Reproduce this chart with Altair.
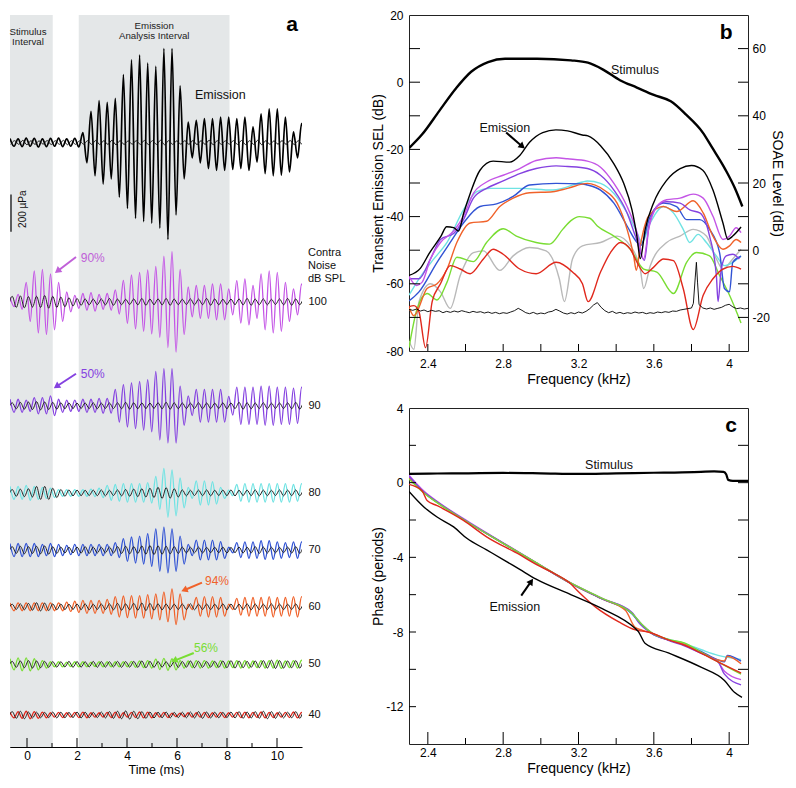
import altair as alt
import pandas as pd

FONT = "Liberation Sans"

# ======================= PANEL A : waveforms =======================
PERIOD_MS = 0.324          # one cycle of the ~3.1 kHz emission
T0, T1 = -0.68, 11.0       # visible time range (ms)
REF_SHIFT = 0.09           # phase offset of the black reference traces
A_W, A_H, A_TOP = 292, 732, 3932   # plot size and vertical extent in µPa

GRAY_START = [-0.68, 2.07]
GRAY_END = [1.03, 8.10]

# per-cycle peak (+) and trough (-) amplitudes, µPa
TOP_POS = [22, 20, 24, 22, 20, 22, 24, 20, 22, 53, 168, 225, 216, 237, 365, 444, 470, 426, 409, 505,
           505, 304, 110, 119, 128, 128, 137, 137, 128, 137, 84, 154, 181, 181, 137, 58, 102]
TOP_NEG = [20, 22, 20, 24, 22, 20, 22, 20, 24, 109, 179, 223, 196, 293, 354, 407, 425, 433, 460, 521,
           389, 196, 82, 109, 140, 150, 150, 145, 140, 150, 105, 167, 179, 175, 158, 82, 105]
TOP_REF = [10, 12, 10, 9, 11, 10, 12, 10, 9, 10, 11, 10, 12, 10, 9, 10, 11, 10, 12, 10,
           9, 10, 11, 10, 12, 10, 9, 10, 11, 10, 12, 10, 9, 10, 11, 10, 12]

AMP_100 = [25, 40, 105, 167, 175, 150, 105, 53, 35, 45, 50, 40, 45, 65, 115, 145, 158, 172, 190, 245,
           270, 175, 80, 88, 88, 96, 96, 70, 114, 123, 88, 150, 167, 158, 105, 70, 96]
AMP_90 = [35, 35, 30, 44, 44, 53, 35, 30, 30, 35, 35, 40, 40, 88, 114, 123, 131, 140, 184, 200,
          200, 105, 53, 88, 88, 88, 88, 50, 100, 100, 100, 105, 105, 100, 100, 95, 100]
AMP_80 = [35, 35, 40, 35, 30, 25, 18, 18, 18, 18, 20, 25, 40, 45, 50, 50, 50, 55, 88, 131,
          123, 80, 30, 65, 65, 60, 30, 15, 45, 50, 50, 50, 50, 50, 50, 45, 50]
AMP_70 = [35, 35, 35, 35, 30, 35, 30, 25, 30, 30, 30, 30, 30, 40, 61, 70, 75, 88, 114, 123,
          114, 75, 30, 53, 53, 53, 45, 15, 40, 44, 44, 50, 50, 44, 40, 44, 44]
AMP_60 = [21, 21, 21, 21, 21, 21, 21, 25, 30, 35, 35, 35, 40, 55, 58, 60, 60, 65, 70, 80,
          96, 70, 15, 50, 55, 55, 50, 15, 45, 50, 50, 50, 55, 50, 50, 55, 55]
AMP_50 = [30, 35, 35, 30, 20, 14, 14, 12, 14, 14, 12, 14, 14, 14, 14, 16, 18, 20, 28, 32,
          30, 20, 18, 20, 20, 18, 20, 18, 20, 20, 18, 20, 20, 22, 18, 20, 22]
AMP_40 = [15, 18, 20, 18, 15, 12, 14, 12, 14, 15, 12, 12, 14, 15, 12, 14, 16, 15, 12, 14,
          10, 10, 12, 12, 14, 12, 14, 12, 14, 15, 14, 16, 14, 12, 14, 16, 14]

REF_100 = [30, 32, 28, 30, 34, 30, 26, 22, 18, 16, 15, 16, 18, 15, 14, 16, 18, 15, 16, 18,
           15, 14, 16, 15, 18, 16, 14, 15, 16, 18, 15, 16, 14, 16, 18, 16, 15]
REF_90 = [16, 18, 20, 22, 20, 18, 16, 15, 14, 15, 16, 14, 15, 16, 18, 16, 15, 14, 16, 18,
          16, 15, 14, 16, 15, 14, 16, 15, 18, 16, 15, 16, 14, 15, 16, 18, 16]
REF_80 = [18, 20, 22, 35, 35, 25, 18, 16, 15, 14, 15, 16, 14, 16, 18, 20, 22, 25, 30, 28,
          22, 16, 14, 15, 16, 14, 15, 16, 14, 15, 16, 15, 14, 16, 15, 16, 14]
REF_70 = [18, 20, 18, 20, 22, 18, 16, 15, 16, 18, 16, 15, 16, 18, 20, 18, 22, 24, 22, 20,
          18, 16, 15, 16, 14, 15, 16, 14, 16, 15, 18, 16, 15, 14, 16, 18, 16]
REF_60 = [14, 16, 18, 22, 20, 16, 15, 14, 15, 16, 14, 15, 16, 18, 16, 18, 20, 18, 16, 15,
          14, 15, 16, 14, 15, 14, 16, 15, 14, 16, 15, 14, 16, 15, 14, 16, 15]
REF_50 = [16, 18, 20, 18, 16, 15, 14, 16, 15, 14, 16, 15, 14, 16, 15, 16, 18, 16, 15, 14,
          16, 15, 18, 16, 15, 16, 18, 20, 18, 16, 18, 20, 22, 20, 18, 20, 18]
REF_40 = [18, 20, 16, 15, 14, 16, 15, 14, 16, 15, 14, 16, 18, 20, 22, 20, 18, 16, 15, 16,
          14, 15, 16, 18, 16, 15, 14, 16, 18, 16, 18, 20, 18, 16, 15, 18, 20]

LEVELS = ["100", "90", "80", "70", "60", "50", "40"]
LEVEL_AMPS = [AMP_100, AMP_90, AMP_80, AMP_70, AMP_60, AMP_50, AMP_40]
LEVEL_REFS = [REF_100, REF_90, REF_80, REF_70, REF_60, REF_50, REF_40]
LEVEL_BASE = [2391, 1833, 1365, 1058, 753, 444, 172]
TOP_BASE = 3247

C_MAG, C_VIO, C_CYAN, C_BLUE = "#c455e6", "#8542e0", "#6fe3e3", "#3153d4"
C_ORANGE, C_GREEN, C_RED, C_GRAY = "#f0622a", "#79dd33", "#e0281c", "#b9b9b9"
LEVEL_COLORS = [C_MAG, C_VIO, C_CYAN, C_BLUE, C_ORANGE, C_GREEN, C_RED]

# ======================= PANEL B : spectra =======================
B_STIM = [(2.30, -19.6), (2.37, -15.5), (2.46, -8.6), (2.55, -1.8), (2.63, 3.1), (2.72, 6.0), (2.81, 7.0),
          (2.98, 7.0), (3.16, 6.5), (3.25, 5.8), (3.335, 3.6), (3.42, 0.6), (3.51, -1.6), (3.60, -3.8),
          (3.69, -5.7), (3.77, -9.6), (3.86, -15.0), (3.91, -19.5), (3.98, -26.0), (4.03, -31.5), (4.07, -37.0)]
B_EMIS = [(2.30, -57.5), (2.36, -55.4), (2.41, -50.7), (2.47, -45.8), (2.50, -43.0), (2.537, -43.3), (2.563, -44.3),
          (2.59, -39.0), (2.625, -33.1), (2.677, -26.2), (2.747, -23.5), (2.835, -23.8), (2.888, -21.8),
          (2.94, -17.9), (3.01, -15.0), (3.08, -14.2), (3.142, -14.5), (3.22, -15.7), (3.25, -16.0),
          (3.317, -18.9), (3.388, -24.3), (3.44, -30.1), (3.484, -38.0), (3.51, -45.8), (3.528, -52.5),
          (3.554, -43.8), (3.598, -36.0), (3.668, -29.2), (3.74, -25.7), (3.80, -24.8), (3.86, -26.2),
          (3.914, -32.1), (3.967, -41.9), (3.993, -46.8), (4.019, -45.8), (4.063, -43.1)]
B_MAG = [(2.30, -57.8), (2.34, -60.5), (2.37, -59.5), (2.414, -52.6), (2.467, -47.7), (2.537, -44.3),
         (2.589, -39.9), (2.642, -33.1), (2.712, -29.7), (2.80, -27.7), (2.888, -25.7), (2.975, -23.3),
         (3.081, -22.5), (3.142, -22.8), (3.247, -23.5), (3.317, -25.3), (3.388, -30.1), (3.458, -37.0),
         (3.511, -44.8), (3.546, -52.6), (3.572, -43.8), (3.616, -37.0), (3.668, -35.0), (3.739, -34.5),
         (3.809, -33.3), (3.862, -34.5), (3.914, -39.9), (3.967, -46.8), (4.002, -45.8), (4.037, -43.3),
         (4.063, -44.8)]
B_VIO = [(2.30, -58.5), (2.353, -58.5), (2.414, -52.6), (2.467, -46.8), (2.537, -45.0), (2.589, -40.9),
         (2.642, -34.5), (2.712, -31.6), (2.80, -29.4), (2.888, -27.2), (2.975, -25.7), (3.081, -24.9),
         (3.142, -25.1), (3.247, -25.7), (3.317, -27.7), (3.388, -32.1), (3.458, -38.9), (3.502, -45.8),
         (3.55, -53.0), (3.575, -42.5), (3.616, -37.0), (3.668, -35.6), (3.739, -36.0), (3.791, -38.0),
         (3.844, -38.9), (3.896, -45.8), (3.932, -57.5), (3.941, -65.3), (3.958, -55.6), (3.984, -51.7),
         (4.019, -51.2), (4.054, -52.6)]
B_CYAN = [(2.30, -63.4), (2.353, -58.5), (2.432, -52.6), (2.502, -47.7), (2.589, -38.0), (2.66, -32.6),
          (2.73, -31.6), (2.888, -31.6), (3.063, -32.1), (3.221, -29.7), (3.247, -29.4), (3.317, -30.1),
          (3.388, -33.1), (3.458, -38.9), (3.511, -44.8), (3.537, -47.7), (3.581, -41.9), (3.651, -37.0),
          (3.704, -38.9), (3.756, -43.8), (3.791, -47.7), (3.835, -45.3), (3.879, -47.7), (3.932, -51.7),
          (3.975, -54.6), (4.019, -53.6), (4.063, -51.7)]
B_BLUE = [(2.30, -65.1), (2.353, -62.4), (2.449, -53.6), (2.519, -47.7), (2.589, -41.9), (2.677, -37.0),
          (2.765, -36.2), (2.853, -34.0), (2.94, -30.6), (3.081, -30.1), (3.221, -30.3), (3.247, -30.6),
          (3.317, -32.1), (3.388, -36.0), (3.458, -42.8), (3.511, -47.7), (3.53, -48.6), (3.581, -39.9),
          (3.651, -36.0), (3.721, -37.0), (3.774, -40.9), (3.844, -40.9), (3.896, -43.8), (3.949, -50.7),
          (3.975, -61.4), (4.002, -62.4), (4.019, -53.6), (4.063, -51.8)]
B_ORANGE = [(2.30, -67.0), (2.326, -69.5), (2.396, -61.4), (2.449, -60.0), (2.502, -55.6), (2.554, -47.7),
            (2.625, -41.9), (2.712, -41.4), (2.782, -37.0), (2.853, -34.5), (2.94, -32.9), (3.063, -32.6),
            (3.142, -31.6), (3.247, -30.1), (3.335, -32.1), (3.405, -36.0), (3.458, -43.8), (3.493, -51.7),
            (3.507, -56.0), (3.528, -48.7), (3.572, -39.9), (3.651, -37.0), (3.721, -38.5), (3.809, -35.3),
            (3.862, -38.9), (3.914, -45.8), (3.967, -49.7), (4.002, -48.7), (4.037, -46.8), (4.063, -47.7)]
B_GREEN = [(2.30, -79.0), (2.344, -67.3), (2.396, -62.9), (2.449, -64.8), (2.502, -59.5), (2.554, -52.1),
           (2.642, -53.4), (2.712, -47.7), (2.80, -43.6), (2.87, -45.8), (2.975, -47.7), (3.046, -48.2),
           (3.116, -43.8), (3.16, -41.2), (3.204, -40.0), (3.26, -40.5), (3.30, -42.8), (3.388, -45.8),
           (3.475, -49.7), (3.546, -55.6), (3.616, -56.5), (3.704, -62.9), (3.774, -53.6), (3.826, -50.7),
           (3.896, -51.7), (3.949, -57.5), (4.002, -63.4), (4.063, -71.7)]
B_GRAY = [(2.30, -77.0), (2.326, -79.5), (2.353, -65.3), (2.414, -60.0), (2.467, -62.4), (2.519, -67.3),
          (2.572, -57.5), (2.642, -50.7), (2.695, -50.2), (2.782, -56.0), (2.853, -51.7), (2.94, -49.2),
          (3.028, -50.2), (3.098, -58.5), (3.125, -65.3), (3.168, -52.6), (3.221, -48.7), (3.317, -47.7),
          (3.405, -45.8), (3.475, -48.7), (3.528, -55.6), (3.546, -61.4), (3.581, -54.6), (3.668, -47.7),
          (3.739, -45.8), (3.809, -43.8), (3.879, -45.8), (3.932, -52.6), (3.967, -55.6), (4.019, -52.6),
          (4.063, -49.7)]
B_RED = [(2.30, -66.8), (2.326, -66.5), (2.353, -68.3), (2.388, -79.0), (2.423, -65.3), (2.467, -60.0),
         (2.519, -54.6), (2.572, -55.6), (2.625, -57.0), (2.695, -52.6), (2.747, -49.7), (2.80, -51.2),
         (2.888, -55.6), (2.975, -57.0), (3.081, -53.6), (3.168, -56.5), (3.221, -60.0), (3.251, -65.3),
         (3.317, -56.5), (3.37, -50.7), (3.423, -47.7), (3.475, -49.7), (3.511, -53.6), (3.554, -57.0),
         (3.598, -55.1), (3.651, -52.6), (3.704, -53.1), (3.756, -61.4), (3.809, -73.6), (3.862, -63.4),
         (3.914, -58.5), (3.967, -55.6), (4.019, -54.8), (4.063, -55.6)]

NOISE_F = [2.30, 2.32, 2.34, 2.36, 2.38, 2.40, 2.42, 2.44, 2.46, 2.48, 2.50, 2.52, 2.54, 2.56, 2.58, 2.60,
           2.62, 2.64, 2.66, 2.68, 2.70, 2.72, 2.74, 2.76, 2.78, 2.80, 2.82, 2.84, 2.86, 2.88, 2.90, 2.92,
           2.94, 2.96, 2.98, 3.00, 3.02, 3.04, 3.06, 3.08, 3.10, 3.12, 3.14, 3.16, 3.18, 3.20, 3.22, 3.24,
           3.26, 3.28, 3.30, 3.32, 3.34, 3.36, 3.38, 3.40, 3.42, 3.44, 3.46, 3.48, 3.50, 3.52, 3.54, 3.56,
           3.58, 3.60, 3.62, 3.64, 3.66, 3.68, 3.70, 3.72, 3.74, 3.76, 3.78, 3.80, 3.81, 3.82, 3.826, 3.832,
           3.84, 3.86, 3.88, 3.90, 3.92, 3.94, 3.96, 3.98, 4.00, 4.02, 4.04, 4.06, 4.08, 4.10]
NOISE_DB = [-17.6, -17.9, -17.5, -18.1, -17.8, -18.3, -17.9, -18.2, -18.0, -18.6, -18.2, -18.5, -18.1, -18.4,
            -18.0, -18.3, -18.6, -18.2, -18.5, -18.3, -18.7, -18.4, -18.8, -18.5, -18.9, -18.6, -18.8, -18.4,
            -18.0, -17.3, -17.9, -18.6, -18.9, -18.5, -19.0, -18.7, -18.9, -18.4, -18.2, -17.6, -18.1, -18.7,
            -19.0, -18.6, -18.9, -18.4, -18.7, -18.2, -17.4, -16.3, -15.6, -17.0, -18.0, -18.6, -18.2, -18.8,
            -18.5, -18.9, -18.6, -18.8, -18.4, -18.7, -18.5, -18.9, -18.6, -18.8, -18.4, -18.6, -18.3, -18.5,
            -18.1, -18.2, -17.8, -17.6, -17.4, -17.2, -15.8, -8.0, -3.6, -9.5, -16.2, -17.2, -17.5, -17.2,
            -17.6, -17.3, -17.0, -16.4, -16.1, -16.9, -17.4, -17.2, -17.5, -17.3]

# ======================= PANEL C : phase =======================
C_STIM = [(2.30, 0.47), (2.45, 0.49), (2.60, 0.50), (2.80, 0.52), (3.00, 0.50), (3.20, 0.47), (3.40, 0.50),
          (3.60, 0.53), (3.75, 0.55), (3.85, 0.58), (3.92, 0.60), (3.97, 0.58), (3.984, 0.45), (3.995, 0.15),
          (4.02, 0.10), (4.10, 0.10)]
C_EMIS = [(2.30, -0.47), (2.379, -1.30), (2.449, -1.84), (2.537, -2.37), (2.607, -2.98), (2.712, -3.60),
          (2.80, -4.12), (2.888, -4.65), (2.975, -5.17), (3.151, -5.96), (3.326, -6.75), (3.50, -7.80),
          (3.518, -7.98), (3.553, -8.60), (3.677, -9.12), (3.853, -9.90), (3.975, -10.60), (4.028, -11.23),
          (4.068, -11.50)]
C_MAGP = [(2.30, 0.40), (2.379, -0.45), (2.449, -1.0), (2.625, -2.15), (2.80, -3.22), (2.975, -4.28),
          (3.151, -5.33), (3.326, -6.2), (3.484, -6.98), (3.537, -7.6), (3.589, -8.05), (3.677, -8.42),
          (3.765, -8.7), (3.853, -9.15), (3.941, -9.6), (3.975, -10.1), (4.063, -10.55)]
C_VIOP = [(2.30, 0.35), (2.379, -0.5), (2.449, -1.03), (2.625, -2.18), (2.80, -3.24), (2.975, -4.3),
          (3.151, -5.34), (3.326, -6.22), (3.484, -6.95), (3.52, -7.5), (3.589, -8.07), (3.677, -8.45),
          (3.765, -8.75), (3.853, -9.15), (3.941, -9.6), (3.975, -10.26), (4.063, -10.83)]
C_CYANP = [(2.30, 0.3), (2.379, -0.52), (2.449, -1.05), (2.625, -2.2), (2.80, -3.25), (2.975, -4.3),
           (3.151, -5.35), (3.326, -6.23), (3.484, -7.02), (3.537, -7.63), (3.589, -8.07), (3.677, -8.38),
           (3.765, -8.62), (3.853, -8.95), (3.941, -9.25), (4.063, -9.47)]
C_BLUEP = [(2.30, 0.3), (2.379, -0.53), (2.449, -1.05), (2.625, -2.2), (2.80, -3.25), (2.975, -4.3),
           (3.151, -5.35), (3.326, -6.23), (3.484, -7.02), (3.537, -7.63), (3.589, -8.07), (3.677, -8.42),
           (3.765, -8.68), (3.853, -9.05), (3.941, -9.5), (3.975, -9.6), (3.99, -9.25), (4.063, -9.56)]
C_ORANGEP = [(2.30, 0.28), (2.379, -0.53), (2.449, -1.05), (2.625, -2.2), (2.80, -3.25), (2.975, -4.3),
             (3.151, -5.35), (3.326, -6.23), (3.45, -6.85), (3.50, -7.75), (3.537, -7.9), (3.589, -8.07),
             (3.677, -8.42), (3.765, -8.68), (3.853, -9.1), (3.941, -9.5), (3.975, -9.55), (3.99, -9.3),
             (4.063, -9.7)]
C_GREENP = [(2.30, 0.2), (2.379, -0.55), (2.449, -1.07), (2.625, -2.2), (2.80, -3.25), (2.975, -4.28),
            (3.151, -5.33), (3.326, -6.2), (3.484, -7.0), (3.537, -7.6), (3.589, -8.05), (3.677, -8.4),
            (3.765, -8.6), (3.853, -9.1), (3.941, -9.6), (4.063, -10.26)]
C_REDP = [(2.30, -0.09), (2.37, -0.44), (2.396, -0.96), (2.449, -1.23), (2.589, -2.02), (2.712, -2.9),
          (2.888, -3.86), (2.975, -4.38), (3.063, -4.82), (3.151, -5.35), (3.204, -5.88), (3.291, -6.67),
          (3.414, -7.46), (3.502, -7.89), (3.572, -8.0), (3.677, -8.42), (3.765, -8.72), (3.853, -9.15),
          (3.941, -9.6), (4.063, -10.2)]

# ======================= helpers =======================
def wave_df(name, pos, neg, base, shift, col):
    ts, vs = [], []
    if shift:
        ts.append(T0 + shift - PERIOD_MS / 2)
        vs.append(base - neg[0])
    for k in range(len(pos)):
        t = T0 + shift + k * PERIOD_MS
        ts += [t, t + PERIOD_MS / 2]
        vs += [base + pos[k], base - neg[k]]
    return pd.DataFrame({"t": ts, "v": vs, "s": name, "col": col})


def series_df(pairs_by_name):
    frames = []
    for name, col, pairs in pairs_by_name:
        frames.append(pd.DataFrame({"f": [p[0] for p in pairs], "v": [p[1] for p in pairs],
                                    "s": name, "col": col}))
    return pd.concat(frames, ignore_index=True)


def hyphen_labels():
    return "datum.value < 0 ? '-' + format(-datum.value, 'd') : format(datum.value, 'd')"


# ======================= build panel A =======================
xA_scale = alt.Scale(domain=[T0, T1], nice=False, zero=False)
yA_scale = alt.Scale(domain=[0, A_TOP], nice=False, zero=False)
xA_axis = alt.Axis(values=[0, 2, 4, 6, 8, 10], ticks=False, grid=False, domainColor="black",
                   labelPadding=3, title="Time (ms)", titleFontSize=12.5, titlePadding=2, format="d")
yA_axis = alt.Axis(labels=False, ticks=False, grid=False, title="", domainColor="black")


def XA(f):
    return alt.X(f, type="quantitative", scale=xA_scale, axis=xA_axis)


def YA(f):
    return alt.Y(f, type="quantitative", scale=yA_scale, axis=yA_axis)


gray_df = pd.DataFrame({"a": GRAY_START, "b": GRAY_END})
gray = alt.Chart(gray_df).mark_rect(color="#e4e7e8").encode(
    x=XA("a"), x2="b", y=alt.value(0), y2=alt.value(A_H))

col_waves = pd.concat([wave_df(n, a, a, b, 0.0, c)
                       for n, a, b, c in zip(LEVELS, LEVEL_AMPS, LEVEL_BASE, LEVEL_COLORS)], ignore_index=True)
ref_waves = pd.concat([wave_df("r" + n, r, r, b, REF_SHIFT, "#111111")
                       for n, r, b in zip(LEVELS, LEVEL_REFS, LEVEL_BASE)] +
                      [wave_df("rtop", TOP_REF, TOP_REF, TOP_BASE, REF_SHIFT + 0.1, "#111111")],
                      ignore_index=True)
top_wave = wave_df("top", TOP_POS, TOP_NEG, TOP_BASE, 0.0, "#000000")

colored_a = alt.Chart(col_waves).mark_line(interpolate="monotone", clip=True, strokeWidth=1.3).encode(
    x=XA("t"), y=YA("v"), detail="s:N", color=alt.Color("col:N", scale=None))
top_a = alt.Chart(top_wave).mark_line(interpolate="monotone", clip=True, strokeWidth=1.7, color="black").encode(
    x=XA("t"), y=YA("v"))
refs_a = alt.Chart(ref_waves).mark_line(interpolate="monotone", clip=True, strokeWidth=0.9, color="#111111").encode(
    x=XA("t"), y=YA("v"), detail="s:N")

ticks_major_a = alt.Chart(pd.DataFrame({"t": [0, 2, 4, 6, 8, 10]})).mark_rule(color="black").encode(
    x=XA("t"), y=alt.value(A_H), y2=alt.value(A_H - 9))
ticks_minor_a = alt.Chart(pd.DataFrame({"t": [1, 3, 5, 7, 9]})).mark_rule(color="black").encode(
    x=XA("t"), y=alt.value(A_H), y2=alt.value(A_H - 4))

scalebar = alt.Chart(pd.DataFrame({"t": [-0.64], "v": [2768], "v2": [2968]})).mark_rule(
    color="black", strokeWidth=1.2).encode(x=XA("t"), y=YA("v"), y2="v2")

txt_center_a = pd.DataFrame({
    "t": [0.04, 0.04, 5.09, 5.09, 7.73, 2.63, 2.63, 7.60, 7.16],
    "v": [3842, 3789, 3874, 3817, 3502, 2628, 2005, 891, 532],
    "txt": ["Stimulus", "Interval", "Emission", "Analysis Interval", "Emission", "90%", "50%", "94%", "56%"],
    "fs": [9.7, 9.7, 9.7, 9.7, 12.5, 12, 12, 12, 12],
    "col": ["#222", "#222", "#222", "#222", "#111", "#c060d8", C_VIO, C_ORANGE, C_GREEN]})
texts_a = alt.Chart(txt_center_a).mark_text(font=FONT, align="center", baseline="middle").encode(
    x=XA("t"), y=YA("v"), text="txt:N", size=alt.Size("fs:Q", scale=None), color=alt.Color("col:N", scale=None))

txt_left_a = pd.DataFrame({
    "t": [11.24, 11.24, 11.24] + [11.26] * 7,
    "v": [2653, 2584, 2516] + LEVEL_BASE,
    "txt": ["Contra", "Noise", "dB SPL"] + LEVELS})
labels_a = alt.Chart(txt_left_a).mark_text(font=FONT, align="left", baseline="middle", fontSize=11,
                                           color="#111").encode(x=XA("t"), y=YA("v"), text="txt:N")

letter_a = alt.Chart(pd.DataFrame({"t": [10.6], "v": [3880], "txt": ["a"]})).mark_text(
    font=FONT, fontSize=21, fontWeight="bold", align="center", baseline="middle", color="black").encode(
    x=XA("t"), y=YA("v"), text="txt:N")
upa_a = alt.Chart(pd.DataFrame({"t": [-0.16], "v": [2889], "txt": ["200 µPa"]})).mark_text(
    font=FONT, fontSize=10, angle=270, align="center", baseline="middle", color="#111").encode(
    x=XA("t"), y=YA("v"), text="txt:N")

arrows_a = pd.DataFrame({
    "t": [1.96, 1.96, 7.00, 6.67], "v": [2632, 2005, 883, 505],
    "t2": [1.28, 1.24, 6.35, 5.95], "v2": [2562, 1942, 846, 467],
    "th": [1.22, 1.18, 6.29, 5.89], "vh": [2557, 1937, 843, 464],
    "ang": [232, 236, 247, 247],
    "col": ["#c060d8", C_VIO, C_ORANGE, C_GREEN]})
arrow_lines_a = alt.Chart(arrows_a).mark_rule(strokeWidth=2).encode(
    x=XA("t"), y=YA("v"), x2="t2", y2="v2", color=alt.Color("col:N", scale=None))
arrow_heads_a = alt.Chart(arrows_a).mark_point(shape="triangle-up", filled=True, size=55, opacity=1).encode(
    x=XA("th"), y=YA("vh"), angle=alt.Angle("ang:Q", scale=None), color=alt.Color("col:N", scale=None))

panel_a = alt.layer(gray, colored_a, top_a, refs_a, ticks_major_a, ticks_minor_a, scalebar, texts_a,
                    labels_a, letter_a, upa_a, arrow_lines_a, arrow_heads_a).properties(
    width=A_W, height=A_H, view=alt.ViewBackground(stroke="transparent"))

# ======================= build panel B =======================
B_W, B_H = 339, 336
xB_scale = alt.Scale(domain=[2.3, 4.1], nice=False, zero=False)
yB_scale = alt.Scale(domain=[-80, 20], nice=False, zero=False)
yB2_scale = alt.Scale(domain=[-30, 70], nice=False, zero=False)
xB_axis = alt.Axis(values=[2.4, 2.8, 3.2, 3.6, 4.0], format=".1~f", ticks=False, domain=False, grid=False,
                   labelPadding=7, title="Frequency (kHz)", titleFontSize=14, titlePadding=3)
yB_axis = alt.Axis(values=[-80, -60, -40, -20, 0, 20], labelExpr=hyphen_labels(), ticks=False, domain=False,
                   grid=False, labelPadding=6, title="Transient Emission SEL (dB)", titleFontSize=14,
                   titlePadding=0)
yB2_axis = alt.Axis(orient="right", values=[-20, 0, 20, 40, 60], labelExpr=hyphen_labels(), ticks=False,
                    domain=False, grid=False, labelPadding=4, title="SOAE Level (dB)", titleFontSize=14,
                    titlePadding=0)


def XB(f):
    return alt.X(f, type="quantitative", scale=xB_scale, axis=xB_axis)


def YB(f):
    return alt.Y(f, type="quantitative", scale=yB_scale, axis=yB_axis)


b_col_df = series_df([("gray", C_GRAY, B_GRAY), ("green", C_GREEN, B_GREEN), ("cyan", C_CYAN, B_CYAN),
                      ("blue", C_BLUE, B_BLUE), ("orange", C_ORANGE, B_ORANGE), ("vio", C_VIO, B_VIO),
                      ("mag", C_MAG, B_MAG), ("red", C_RED, B_RED)])
b_colored = alt.Chart(b_col_df).mark_line(interpolate="monotone", clip=True, strokeWidth=1.4).encode(
    x=XB("f"), y=YB("v"), detail="s:N", color=alt.Color("col:N", scale=None))
b_emis = alt.Chart(series_df([("emis", "#000", B_EMIS)])).mark_line(
    interpolate="monotone", clip=True, strokeWidth=1.4, color="black").encode(x=XB("f"), y=YB("v"))
b_stim = alt.Chart(series_df([("stim", "#000", B_STIM)])).mark_line(
    interpolate="monotone", clip=True, strokeWidth=2.4, color="black").encode(x=XB("f"), y=YB("v"))

b_yt = pd.DataFrame({"v": [-70, -60, -50, -40, -30, -20, -10, 0, 10]})
b_lt = alt.Chart(b_yt).mark_rule(color="black").encode(y=YB("v"), x=alt.value(0), x2=alt.value(11))
b_rt = alt.Chart(b_yt).mark_rule(color="black").encode(y=YB("v"), x=alt.value(B_W - 10), x2=alt.value(B_W))
b_xt = alt.Chart(pd.DataFrame({"f": [2.4, 2.6, 2.8, 3.0, 3.2, 3.4, 3.6, 3.8, 4.0]})).mark_rule(
    color="black").encode(x=XB("f"), y=alt.value(B_H), y2=alt.value(B_H - 7))

b_txt = alt.Chart(pd.DataFrame({"f": [3.50, 2.809], "v": [3.6, -13.5], "txt": ["Stimulus", "Emission"]})).mark_text(
    font=FONT, fontSize=12.5, align="center", baseline="middle", color="#111").encode(
    x=XB("f"), y=YB("v"), text="txt:N")
b_letter = alt.Chart(pd.DataFrame({"f": [3.984], "v": [14.7], "txt": ["b"]})).mark_text(
    font=FONT, fontSize=21, fontWeight="bold", align="center", baseline="middle", color="black").encode(
    x=XB("f"), y=YB("v"), text="txt:N")
b_arrow_df = pd.DataFrame({"f": [2.816], "v": [-15.0], "f2": [2.897], "v2": [-18.9],
                           "fh": [2.902], "vh": [-19.1], "ang": [130]})
b_arrow_l = alt.Chart(b_arrow_df).mark_rule(strokeWidth=2, color="black").encode(
    x=XB("f"), y=YB("v"), x2="f2", y2="v2")
b_arrow_h = alt.Chart(b_arrow_df).mark_point(shape="triangle-up", filled=True, size=55, opacity=1,
                                             color="black").encode(
    x=XB("fh"), y=YB("vh"), angle=alt.Angle("ang:Q", scale=None))

b_left = alt.layer(b_colored, b_emis, b_stim, b_lt, b_rt, b_xt, b_txt, b_letter, b_arrow_l, b_arrow_h)
b_noise = alt.Chart(pd.DataFrame({"f": NOISE_F, "db": NOISE_DB})).mark_line(
    strokeWidth=0.9, color="black", clip=True).encode(
    x=XB("f"), y=alt.Y("db:Q", scale=yB2_scale, axis=yB2_axis))
panel_b = alt.layer(b_left, b_noise).resolve_scale(y="independent").properties(width=B_W, height=B_H)

# ======================= build panel C =======================
C_W, C_H = 339, 336
yC_scale = alt.Scale(domain=[-14, 4], nice=False, zero=False)
xC_axis = alt.Axis(values=[2.4, 2.8, 3.2, 3.6, 4.0], format=".1~f", ticks=False, domain=False, grid=False,
                   labelPadding=3, title="Frequency (kHz)", titleFontSize=14, titlePadding=3)
yC_axis = alt.Axis(values=[-12, -8, -4, 0, 4], labelExpr=hyphen_labels(), ticks=False, domain=False,
                   grid=False, labelPadding=6, title="Phase (periods)", titleFontSize=14, titlePadding=0)


def XC(f):
    return alt.X(f, type="quantitative", scale=xB_scale, axis=xC_axis)


def YC(f):
    return alt.Y(f, type="quantitative", scale=yC_scale, axis=yC_axis)


c_col_df = series_df([("mag", C_MAG, C_MAGP), ("cyan", C_CYAN, C_CYANP), ("blue", C_BLUE, C_BLUEP),
                      ("orange", C_ORANGE, C_ORANGEP), ("vio", C_VIO, C_VIOP), ("green", C_GREEN, C_GREENP),
                      ("red", C_RED, C_REDP)])
c_colored = alt.Chart(c_col_df).mark_line(interpolate="monotone", clip=True, strokeWidth=1.4).encode(
    x=XC("f"), y=YC("v"), detail="s:N", color=alt.Color("col:N", scale=None))
c_emis = alt.Chart(series_df([("emis", "#000", C_EMIS)])).mark_line(
    interpolate="monotone", clip=True, strokeWidth=1.4, color="black").encode(x=XC("f"), y=YC("v"))
c_stim = alt.Chart(series_df([("stim", "#000", C_STIM)])).mark_line(
    interpolate="monotone", clip=True, strokeWidth=2.2, color="black").encode(x=XC("f"), y=YC("v"))

c_yt = pd.DataFrame({"v": [-12, -10, -8, -6, -4, -2, 0, 2]})
c_lt = alt.Chart(c_yt).mark_rule(color="black").encode(y=YC("v"), x=alt.value(0), x2=alt.value(7))
c_rt = alt.Chart(c_yt).mark_rule(color="black").encode(y=YC("v"), x=alt.value(C_W - 10), x2=alt.value(C_W))
c_xt_major = alt.Chart(pd.DataFrame({"f": [2.4, 2.8, 3.2, 3.6, 4.0]})).mark_rule(color="black").encode(
    x=XC("f"), y=alt.value(C_H), y2=alt.value(C_H - 12))
c_xt_minor = alt.Chart(pd.DataFrame({"f": [2.6, 3.0, 3.4, 3.8]})).mark_rule(color="black").encode(
    x=XC("f"), y=alt.value(C_H), y2=alt.value(C_H - 6))

c_txt = alt.Chart(pd.DataFrame({"f": [3.362, 2.862], "v": [0.93, -6.67], "txt": ["Stimulus", "Emission"]})).mark_text(
    font=FONT, fontSize=12.5, align="center", baseline="middle", color="#111").encode(
    x=XC("f"), y=YC("v"), text="txt:N")
c_letter = alt.Chart(pd.DataFrame({"f": [4.01], "v": [3.05], "txt": ["c"]})).mark_text(
    font=FONT, fontSize=21, fontWeight="bold", align="center", baseline="middle", color="black").encode(
    x=XC("f"), y=YC("v"), text="txt:N")
c_arrow_df = pd.DataFrame({"f": [2.896], "v": [-6.05], "f2": [2.946], "v2": [-5.33],
                           "fh": [2.949], "vh": [-5.29], "ang": [34.5]})
c_arrow_l = alt.Chart(c_arrow_df).mark_rule(strokeWidth=2, color="black").encode(
    x=XC("f"), y=YC("v"), x2="f2", y2="v2")
c_arrow_h = alt.Chart(c_arrow_df).mark_point(shape="triangle-up", filled=True, size=55, opacity=1,
                                             color="black").encode(
    x=XC("fh"), y=YC("vh"), angle=alt.Angle("ang:Q", scale=None))

panel_c = alt.layer(c_colored, c_emis, c_stim, c_lt, c_rt, c_xt_major, c_xt_minor, c_txt, c_letter,
                    c_arrow_l, c_arrow_h).properties(width=C_W, height=C_H)

# ======================= compose =======================
right = alt.vconcat(panel_b, panel_c, spacing=57, bounds="flush")
chart = alt.hconcat(panel_a, right, spacing=107, bounds="flush").properties(
    padding={"left": 0, "top": 0, "right": 0, "bottom": 0})
chart = chart.configure_view(stroke="#222", strokeWidth=1).configure_axis(
    labelFont=FONT, titleFont=FONT, labelFontSize=12, labelColor="black", titleColor="black",
    titleFontWeight="normal").configure_text(font=FONT)

chart.save("out.html", embed_options={"renderer": "svg", "actions": False})
